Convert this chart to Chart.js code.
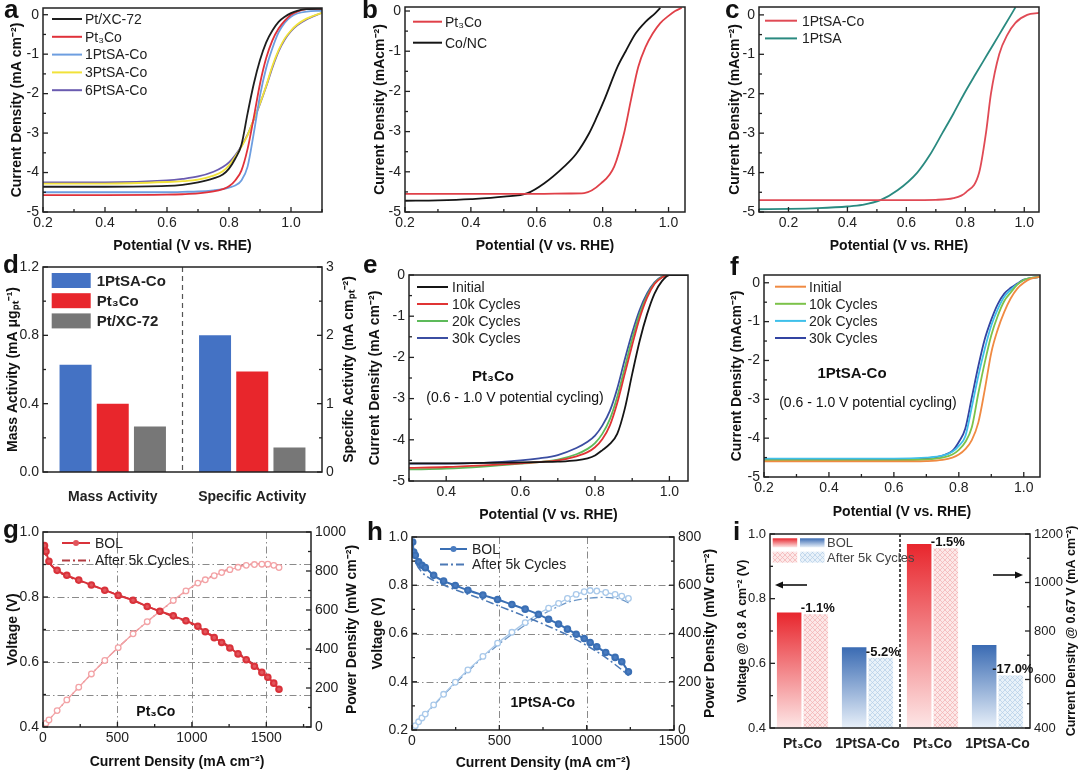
<!DOCTYPE html>
<html>
<head>
<meta charset="utf-8">
<title>ORR and fuel cell performance</title>
<script src="https://cdn.jsdelivr.net/npm/chart.js@4.4.1/dist/chart.umd.min.js"></script>
<style>
  html, body { margin: 0; padding: 0; background: #fff; }
  body { position: relative; width: 1080px; height: 774px; overflow: hidden; }
  canvas { position: absolute; }
  .tag { position: absolute; font: bold 26px "Liberation Sans", Arial, sans-serif; line-height: 26px; color: #111; }
</style>
</head>
<body>
<canvas id="ca"></canvas><canvas id="cb"></canvas><canvas id="cc"></canvas>
<canvas id="cd"></canvas><canvas id="ce"></canvas><canvas id="cf"></canvas>
<canvas id="cg"></canvas><canvas id="ch"></canvas><canvas id="ci"></canvas>
<div class="tag" style="left:4px;top:-4px">a</div>
<div class="tag" style="left:362px;top:-4px">b</div>
<div class="tag" style="left:725px;top:-4px">c</div>
<div class="tag" style="left:3px;top:251px">d</div>
<div class="tag" style="left:363px;top:251px">e</div>
<div class="tag" style="left:730px;top:253px">f</div>
<div class="tag" style="left:3px;top:516px">g</div>
<div class="tag" style="left:367px;top:518px">h</div>
<div class="tag" style="left:733px;top:518px">i</div>
<script>
// ---- a: LSV of the catalysts
const aPot = [0.2, 0.4, 0.6, 0.65, 0.7, 0.75, 0.78, 0.8, 0.82, 0.84, 0.86, 0.88, 0.9, 0.92, 0.94, 0.96, 0.98, 1.0, 1.02, 1.05, 1.1];
const aPtXC = [-4.36, -4.36, -4.34, -4.31, -4.25, -4.15, -4.05, -3.9, -3.65, -3.3, -2.5, -1.75, -1.15, -0.7, -0.4, -0.18, -0.05, 0.04, 0.1, 0.14, 0.15];
const aPt3Co = [-4.57, -4.57, -4.56, -4.55, -4.53, -4.48, -4.42, -4.35, -4.2, -3.95, -3.4, -2.6, -1.75, -1.1, -0.65, -0.35, -0.15, 0.0, 0.08, 0.14, 0.15];
const a1PtSA = [-4.5, -4.5, -4.5, -4.49, -4.48, -4.45, -4.42, -4.38, -4.33, -4.2, -3.85, -3.0, -2.05, -1.35, -0.85, -0.45, -0.2, -0.05, 0.03, 0.08, 0.1];
const a3PtSA = [-4.28, -4.28, -4.24, -4.22, -4.18, -4.08, -3.97, -3.82, -3.6, -3.35, -3.05, -2.65, -2.25, -1.8, -1.3, -0.9, -0.6, -0.4, -0.25, -0.1, 0.05];
const a6PtSA = [-4.25, -4.25, -4.2, -4.16, -4.1, -3.98, -3.86, -3.74, -3.56, -3.33, -3.04, -2.66, -2.26, -1.82, -1.34, -0.93, -0.63, -0.42, -0.27, -0.12, 0.05];

// ---- b: Pt3Co vs Co/NC
const bPotPt = [0.2, 0.4, 0.6, 0.7, 0.744, 0.795, 0.835, 0.865, 0.886, 0.908, 0.93, 0.952, 0.975, 1.0, 1.02, 1.04];
const bPt3Co = [-4.55, -4.55, -4.55, -4.54, -4.53, -4.29, -3.87, -3.04, -2.21, -1.39, -0.9, -0.56, -0.3, -0.12, 0.0, 0.08];
const bPotNC = [0.2, 0.3, 0.4, 0.5, 0.572, 0.622, 0.683, 0.72, 0.759, 0.78, 0.805, 0.845, 0.87, 0.9, 0.93, 0.96, 0.975];
const bCoNC = [-4.72, -4.71, -4.68, -4.62, -4.53, -4.29, -3.87, -3.55, -3.04, -2.68, -2.21, -1.39, -1.0, -0.56, -0.27, -0.05, 0.08];

// ---- c: 1PtSA-Co vs 1PtSA
const cPotCo = [0.1, 0.3, 0.5, 0.7, 0.76, 0.802, 0.847, 0.87, 0.887, 0.915, 0.943, 0.97, 1.01, 1.05];
const c1PtSACo = [-4.7, -4.7, -4.7, -4.69, -4.65, -4.5, -4.0, -3.0, -2.0, -1.0, -0.5, -0.2, 0.0, 0.05];
const cPotSA = [0.1, 0.2, 0.3, 0.4, 0.45, 0.512, 0.57, 0.637, 0.68, 0.722, 0.76, 0.796, 0.835, 0.875, 0.915, 0.955, 0.97];
const c1PtSA = [-4.93, -4.92, -4.9, -4.86, -4.82, -4.7, -4.45, -4.0, -3.55, -3.0, -2.5, -2.0, -1.5, -1.0, -0.5, 0.0, 0.19];

// ---- d: mass / specific activity
const dGroups = ['Mass Activity', 'Specific Activity'];
const dSeries = ['1PtSA-Co', 'Pt₃Co', 'Pt/XC-72'];
const dMass = [0.628, 0.40, 0.267];
const dSpecific = [2.0, 1.47, 0.36];

// ---- e: Pt3Co durability
const ePot = [0.3, 0.4, 0.5, 0.6, 0.65, 0.7, 0.75, 0.78, 0.8, 0.82, 0.84, 0.86, 0.88, 0.9, 0.92, 0.94, 0.96, 0.98, 1.0, 1.05];
const eInit = [-4.57, -4.57, -4.56, -4.55, -4.54, -4.53, -4.5, -4.45, -4.38, -4.25, -4.1, -3.85, -3.25, -2.4, -1.6, -0.95, -0.45, -0.15, 0, 0];
const e10k = [-4.68, -4.66, -4.62, -4.57, -4.54, -4.5, -4.4, -4.3, -4.18, -3.98, -3.65, -3.1, -2.4, -1.7, -1.05, -0.55, -0.22, -0.06, 0, 0];
const e20k = [-4.72, -4.7, -4.65, -4.58, -4.54, -4.48, -4.35, -4.22, -4.08, -3.85, -3.5, -2.95, -2.25, -1.55, -0.95, -0.5, -0.2, -0.05, 0, 0];
const e30k = [-4.58, -4.58, -4.56, -4.5, -4.45, -4.37, -4.2, -4.05, -3.9, -3.65, -3.3, -2.75, -2.05, -1.4, -0.85, -0.45, -0.18, -0.04, 0, 0];

// ---- f: 1PtSA-Co durability
const fPot = [0.2, 0.4, 0.6, 0.7, 0.75, 0.78, 0.8, 0.82, 0.84, 0.86, 0.88, 0.9, 0.92, 0.94, 0.96, 0.98, 1.0, 1.02, 1.05];
const fInit = [-4.6, -4.6, -4.6, -4.59, -4.56, -4.5, -4.42, -4.28, -4.05, -3.6, -2.75, -1.8, -1.2, -0.75, -0.4, -0.15, 0.0, 0.1, 0.15];
const f10k = [-4.57, -4.57, -4.57, -4.55, -4.5, -4.42, -4.3, -4.1, -3.72, -2.85, -2.05, -1.35, -0.85, -0.47, -0.25, -0.05, 0.07, 0.12, 0.15];
const f20k = [-4.53, -4.53, -4.53, -4.5, -4.45, -4.35, -4.2, -3.95, -3.2, -2.4, -1.7, -1.1, -0.68, -0.36, -0.18, -0.04, 0.07, 0.12, 0.15];
const f30k = [-4.55, -4.55, -4.55, -4.52, -4.45, -4.33, -4.1, -3.75, -2.95, -2.15, -1.45, -0.95, -0.55, -0.28, -0.13, -0.02, 0.08, 0.12, 0.15];

// ---- g: Pt3Co polarization
const gCur = [10, 20, 40, 95, 160, 240, 325, 415, 505, 605, 700, 785, 875, 960, 1040, 1090, 1150, 1200, 1255, 1310, 1365, 1420, 1470, 1510, 1550, 1585];
const gVolBol = [0.958, 0.94, 0.91, 0.882, 0.867, 0.852, 0.837, 0.821, 0.805, 0.79, 0.771, 0.756, 0.742, 0.727, 0.71, 0.693, 0.675, 0.66, 0.643, 0.625, 0.607, 0.587, 0.568, 0.553, 0.535, 0.516];
const gPowBol = [10, 19, 36, 84, 139, 204, 272, 341, 407, 478, 540, 593, 649, 698, 738, 755, 776, 792, 807, 819, 829, 833, 835, 835, 829, 818];
const gCur5k = [5, 30, 80, 150, 250, 400, 550, 700, 850, 1000, 1150, 1300, 1400, 1500, 1580];
const gVol5k = [0.95, 0.915, 0.885, 0.866, 0.849, 0.824, 0.799, 0.771, 0.744, 0.716, 0.678, 0.632, 0.598, 0.558, 0.52];
const gPow5k = [5, 27, 71, 130, 212, 330, 440, 540, 632, 716, 780, 822, 837, 837, 822];
const gCurTicks = [0, 500, 1000, 1500];

// ---- h: 1PtSA-Co polarization
const hCur = [4, 10, 19, 38, 57, 76, 124, 181, 248, 320, 406, 490, 572, 648, 724, 782, 839, 890, 940, 986, 1020, 1058, 1109, 1163, 1201, 1239];
const hVolBol = [0.979, 0.938, 0.924, 0.897, 0.883, 0.873, 0.841, 0.817, 0.799, 0.779, 0.759, 0.741, 0.72, 0.701, 0.679, 0.659, 0.639, 0.618, 0.597, 0.579, 0.563, 0.545, 0.521, 0.501, 0.483, 0.441];
const hPowBol = [4, 9, 18, 34, 50, 66, 104, 148, 198, 249, 305, 360, 405, 445, 482, 505, 525, 545, 562, 573, 578, 576, 570, 562, 555, 545];
const hCur5k = [5, 20, 50, 100, 200, 300, 400, 500, 600, 700, 800, 900, 1000, 1100, 1200, 1240];
const hVol5k = [0.95, 0.9, 0.86, 0.83, 0.795, 0.768, 0.742, 0.713, 0.685, 0.655, 0.624, 0.59, 0.55, 0.505, 0.45, 0.425];
const hPow5k = [5, 18, 43, 83, 159, 230, 297, 357, 411, 459, 499, 531, 545, 550, 540, 527];

// ---- i: retention after 5k cycles
const iCats = ['Pt₃Co', '1PtSA-Co', 'Pt₃Co', '1PtSA-Co'];
const iVoltBol = [0.757, 0.65];
const iVolt5k = [0.752, 0.617];
const iCurBol = [1159, 742];
const iCur5k = [1141, 617];
const iDrop = ['-1.1%', '-5.2%', '-1.5%', '-17.0%'];

const FONT = '"Liberation Sans", Arial, sans-serif';
const DASHDOT = [8, 3, 2, 3];
const extras = {};

Chart.defaults.font.family = FONT;
Chart.defaults.color = '#222';

const f0 = v => String(v);
const f1 = v => v.toFixed(1);

function axis(o) {
  const ticks = { autoSkip: false, maxRotation: 0, padding: o.pad ?? 4, color: '#222',
    font: { size: o.fsize || 14, weight: o.bold ? 'bold' : 'normal' } };
  if (o.step) { ticks.stepSize = o.step; ticks.includeBounds = false; }
  if (o.fmt) ticks.callback = o.fmt;
  const ax = {
    type: o.type || 'linear', position: o.pos, min: o.min, max: o.max,
    offset: o.type === 'category',
    grid: { display: false, drawTicks: false },
    border: { display: false },
    ticks,
    title: { display: !!o.title && o.pos !== 'right', text: o.title, color: '#111',
      font: { size: o.tsize || 14, weight: 'bold' }, padding: o.tpad }
  };
  if (o.at) ax.afterBuildTicks = s => { s.ticks = o.at.map(v => ({ value: v })); };
  return ax;
}

function fitTo(size) {
  return s => {
    if (s.isHorizontal()) s.height = size; else s.width = size;
    s.paddingTop = s.paddingBottom = s.paddingLeft = s.paddingRight = 0;
  };
}

function lineDs(label, xs, ys, color, extra = {}) {
  return Object.assign({
    label, data: xs.map((x, i) => ({ x, y: ys[i] })),
    borderColor: color, backgroundColor: color, borderWidth: 1.8,
    pointRadius: 0, cubicInterpolationMode: 'monotone', fill: false
  }, extra);
}

// frame, inward ticks, dash-dot grid, dividers
const framePlugin = {
  id: 'frame',
  beforeDatasetsDraw(chart) {
    const ex = extras[chart.canvas.id];
    const { ctx, chartArea: a } = chart;
    if (!ex.grid) return;
    ctx.save();
    ctx.strokeStyle = '#8a8a8a'; ctx.lineWidth = 1; ctx.setLineDash([7, 3, 1.5, 3]);
    Object.keys(ex.grid).forEach(id => {
      const s = chart.scales[id];
      ex.grid[id].forEach(v => {
        const p = Math.round(s.getPixelForValue(v)) + 0.5;
        ctx.beginPath();
        if (s.isHorizontal()) { ctx.moveTo(p, a.top); ctx.lineTo(p, a.bottom); }
        else { ctx.moveTo(a.left, p); ctx.lineTo(a.right, p); }
        ctx.stroke();
      });
    });
    ctx.restore();
  },
  afterDraw(chart) {
    const ex = extras[chart.canvas.id];
    const { ctx, chartArea: a } = chart;
    ctx.save();
    if (ex.divider) {
      const s = chart.scales.x;
      const x = (s.getPixelForValue(ex.divider.after) + s.getPixelForValue(ex.divider.after + 1)) / 2;
      ctx.strokeStyle = ex.divider.color; ctx.lineWidth = ex.divider.width; ctx.setLineDash(ex.divider.dash);
      ctx.beginPath(); ctx.moveTo(x, a.top); ctx.lineTo(x, a.bottom); ctx.stroke();
      ctx.setLineDash([]);
    }
    ctx.strokeStyle = '#222'; ctx.lineWidth = 1.3;
    Object.values(chart.scales).forEach(s => {
      if (s.type !== 'linear') return;
      const vals = s.ticks.map(t => t.value);
      const step = vals[1] - vals[0];
      const minor = vals.map(v => v - step / 2).concat([vals[vals.length - 1] + step / 2])
        .filter(v => v >= s.min - 1e-9 && v <= s.max + 1e-9);
      const mark = (v, len) => {
        const p = s.getPixelForValue(v);
        ctx.beginPath();
        if (s.position === 'bottom') { ctx.moveTo(p, a.bottom); ctx.lineTo(p, a.bottom - len); }
        else if (s.position === 'left') { ctx.moveTo(a.left, p); ctx.lineTo(a.left + len, p); }
        else { ctx.moveTo(a.right, p); ctx.lineTo(a.right - len, p); }
        ctx.stroke();
      };
      vals.forEach(v => mark(v, 5));
      minor.forEach(v => mark(v, 3));
    });
    ctx.lineWidth = 1.5;
    ctx.strokeRect(a.left, a.top, a.right - a.left, a.bottom - a.top);
    ctx.restore();
  }
};

// legend drawn inside the plot area
const legendPlugin = {
  id: 'inlineLegend',
  afterDraw(chart) {
    const o = extras[chart.canvas.id].legend;
    if (!o) return;
    const { ctx, chartArea: a } = chart;
    const items = chart.data.datasets.filter(d => !d.noLegend);
    ctx.save();
    ctx.font = (o.bold ? 'bold ' : '') + (o.size || 14) + 'px ' + FONT;
    ctx.textBaseline = 'middle'; ctx.textAlign = 'left';
    items.forEach((d, i) => {
      const x = a.left + o.dx, y = a.top + o.dy + i * o.rowH;
      if (o.box) {
        ctx.fillStyle = d.backgroundColor;
        ctx.fillRect(x, y - o.boxH / 2, o.sampleW, o.boxH);
      } else {
        ctx.strokeStyle = d.borderColor; ctx.lineWidth = 2;
        ctx.setLineDash(d.borderDash || []);
        ctx.beginPath(); ctx.moveTo(x, y); ctx.lineTo(x + o.sampleW, y); ctx.stroke();
        ctx.setLineDash([]);
        if (d.legendMarker) {
          ctx.fillStyle = d.pointBackgroundColor;
          ctx.beginPath(); ctx.arc(x + o.sampleW / 2, y, 3, 0, Math.PI * 2); ctx.fill();
        }
      }
      ctx.fillStyle = '#222';
      ctx.fillText(d.label, x + o.sampleW + o.gap, y + 1);
    });
    ctx.restore();
  }
};

// free text in data coordinates, right-hand axis titles, per-chart extras
const notesPlugin = {
  id: 'notes',
  afterDraw(chart) {
    const ex = extras[chart.canvas.id];
    const { ctx, chartArea: a } = chart;
    (ex.notes || []).forEach(n => {
      ctx.save();
      ctx.font = (n.bold ? 'bold ' : '') + n.size + 'px ' + FONT;
      ctx.fillStyle = '#111'; ctx.textAlign = 'center'; ctx.textBaseline = 'middle';
      ctx.fillText(n.text, chart.scales.x.getPixelForValue(n.x), chart.scales[n.axis || 'y'].getPixelForValue(n.y));
      ctx.restore();
    });
    if (ex.rtitle) {
      ctx.save();
      ctx.font = 'bold ' + (ex.rtitle.size || 14) + 'px ' + FONT;
      ctx.fillStyle = '#111'; ctx.textAlign = 'center'; ctx.textBaseline = 'middle';
      ctx.translate(chart.width - ex.rtitle.off, (a.top + a.bottom) / 2);
      ctx.rotate(-Math.PI / 2);
      ctx.fillText(ex.rtitle.text, 0, 0);
      ctx.restore();
    }
    if (ex.draw) ex.draw(chart);
  }
};

function makeChart(id, box, ax, spec) {
  const cv = document.getElementById(id);
  const w = box.r - box.l + ax.l + ax.r, h = box.b - box.t + ax.t + ax.b;
  cv.width = w; cv.height = h;
  Object.assign(cv.style, { left: (box.l - ax.l) + 'px', top: (box.t - ax.t) + 'px', width: w + 'px', height: h + 'px' });
  extras[id] = spec;
  spec.x.afterFit = fitTo(ax.b);
  spec.y.afterFit = fitTo(ax.l);
  const scales = { x: spec.x, y: spec.y };
  if (spec.y1) { spec.y1.afterFit = fitTo(ax.r); scales.y1 = spec.y1; }
  return new Chart(cv, {
    type: spec.type,
    data: { labels: spec.labels, datasets: spec.datasets },
    options: {
      responsive: false, devicePixelRatio: 1, animation: false, events: [],
      layout: { autoPadding: false, padding: { left: 0, top: ax.t, right: spec.y1 ? 0 : ax.r, bottom: 0 } },
      scales,
      plugins: { legend: { display: false }, tooltip: { enabled: false } }
    },
    plugins: [framePlugin, legendPlugin, notesPlugin]
  });
}

const potTitle = 'Potential (V vs. RHE)';

// a
makeChart('ca', { l: 43, t: 8, r: 322, b: 212 }, { l: 43, t: 8, r: 10, b: 48 }, {
  type: 'line',
  datasets: [
    lineDs('Pt/XC-72', aPot, aPtXC, '#1e1e1e'),
    lineDs('Pt₃Co', aPot, aPt3Co, '#e0313a'),
    lineDs('1PtSA-Co', aPot, a1PtSA, '#6d9ee0'),
    lineDs('3PtSA-Co', aPot, a3PtSA, '#f1e23a'),
    lineDs('6PtSA-Co', aPot, a6PtSA, '#6a5bb0')
  ],
  x: axis({ pos: 'bottom', min: 0.2, max: 1.1, step: 0.2, fmt: f1, pad: 3, title: potTitle, tpad: { bottom: 5.6 } }),
  y: axis({ pos: 'left', min: -5, max: 0.17, step: 1, fmt: f0, title: 'Current Density (mA cm⁻²)', tpad: { top: 8.6 } }),
  legend: { dx: 9, dy: 11, rowH: 17.8, sampleW: 30, gap: 3 }
});

// b
makeChart('cb', { l: 405, t: 7, r: 685, b: 212 }, { l: 45, t: 7, r: 10, b: 48 }, {
  type: 'line',
  datasets: [
    lineDs('Pt₃Co', bPotPt, bPt3Co, '#e04048'),
    lineDs('Co/NC', bPotNC, bCoNC, '#151515')
  ],
  x: axis({ pos: 'bottom', min: 0.2, max: 1.05, step: 0.2, fmt: f1, pad: 3, title: potTitle, tpad: { bottom: 5.6 } }),
  y: axis({ pos: 'left', min: -5, max: 0.1, step: 1, fmt: f0, title: 'Current Density (mAcm⁻²)', tpad: { top: 11.6 } }),
  legend: { dx: 8, dy: 14.7, rowH: 21, sampleW: 29, gap: 3 }
});

// c
makeChart('cc', { l: 759, t: 7, r: 1039, b: 212 }, { l: 39, t: 7, r: 10, b: 48 }, {
  type: 'line',
  datasets: [
    lineDs('1PtSA-Co', cPotCo, c1PtSACo, '#e04a55'),
    lineDs('1PtSA', cPotSA, c1PtSA, '#2a8a80')
  ],
  x: axis({ pos: 'bottom', min: 0.1, max: 1.05, step: 0.2, fmt: f1, pad: 3, title: potTitle, tpad: { bottom: 5.6 } }),
  y: axis({ pos: 'left', min: -5, max: 0.2, step: 1, fmt: f0, title: 'Current Density (mAcm⁻²)', tpad: { top: 6.6 } }),
  legend: { dx: 6, dy: 13.7, rowH: 17.7, sampleW: 32, gap: 5 }
});

// d
const dColors = ['#4472c4', '#e8262c', '#777777'];
const dDatasets = [];
dSeries.forEach((name, k) => dDatasets.push({ label: name, data: [dMass[k], null], yAxisID: 'y',
  backgroundColor: dColors[k], skipNull: true, categoryPercentage: 0.8, barPercentage: 0.86 }));
dSeries.forEach((name, k) => dDatasets.push({ label: name, data: [null, dSpecific[k]], yAxisID: 'y1',
  backgroundColor: dColors[k], skipNull: true, categoryPercentage: 0.8, barPercentage: 0.86, noLegend: true }));
makeChart('cd', { l: 43, t: 267, r: 322, b: 472 }, { l: 43, t: 7, r: 38, b: 38 }, {
  type: 'bar',
  labels: dGroups,
  datasets: dDatasets,
  x: axis({ type: 'category', pos: 'bottom', pad: 17, bold: true }),
  y: axis({ pos: 'left', min: 0, max: 1.2, step: 0.4, fmt: f1, title: 'Mass Activity (mA μgₚₜ⁻¹)', tpad: { top: 4.6 } }),
  y1: axis({ pos: 'right', min: 0, max: 3, step: 1, fmt: f0 }),
  rtitle: { text: 'Specific Activity (mA cmₚₜ⁻²)', off: 11 },
  legend: { box: true, bold: true, size: 15, dx: 8.7, dy: 13.5, rowH: 20.2, sampleW: 39, boxH: 15, gap: 6 },
  divider: { after: 0, dash: [5, 4], color: '#555', width: 1.2 }
});

// e
makeChart('ce', { l: 409, t: 275, r: 688, b: 481 }, { l: 49, t: 15, r: 12, b: 45 }, {
  type: 'line',
  datasets: [
    lineDs('Initial', ePot, eInit, '#151515'),
    lineDs('10k Cycles', ePot, e10k, '#e03434'),
    lineDs('20k Cycles', ePot, e20k, '#5dba5a'),
    lineDs('30k Cycles', ePot, e30k, '#3b4ea2')
  ],
  x: axis({ pos: 'bottom', min: 0.3, max: 1.05, step: 0.2, fmt: f1, pad: 3, title: potTitle, tpad: { bottom: 2.6 } }),
  y: axis({ pos: 'left', min: -5, max: 0, step: 1, fmt: f0, title: 'Current Density (mA cm⁻²)', tpad: { top: 6.6 } }),
  legend: { dx: 8, dy: 12, rowH: 17, sampleW: 31, gap: 4 },
  notes: [
    { text: 'Pt₃Co', x: 0.526, y: -2.48, bold: true, size: 15 },
    { text: '(0.6 - 1.0 V potential cycling)', x: 0.585, y: -2.99, size: 14 }
  ]
});

// f
makeChart('cf', { l: 764, t: 275, r: 1040, b: 477 }, { l: 44, t: 15, r: 10, b: 44 }, {
  type: 'line',
  datasets: [
    lineDs('Initial', fPot, fInit, '#f08a42'),
    lineDs('10k Cycles', fPot, f10k, '#7cc24a'),
    lineDs('20k Cycles', fPot, f20k, '#3fc0ea'),
    lineDs('30k Cycles', fPot, f30k, '#3344a2')
  ],
  x: axis({ pos: 'bottom', min: 0.2, max: 1.05, step: 0.2, fmt: f1, pad: 3, title: potTitle, tpad: { bottom: 0.6 } }),
  y: axis({ pos: 'left', min: -5, max: 0.2, step: 1, fmt: f0, title: 'Current Density (mAcm⁻²)', tpad: { top: 8.6 } }),
  legend: { dx: 11, dy: 11.7, rowH: 17.1, sampleW: 31, gap: 3 },
  notes: [
    { text: '1PtSA-Co', x: 0.471, y: -2.35, bold: true, size: 15 },
    { text: '(0.6 - 1.0 V potential cycling)', x: 0.52, y: -3.09, size: 14 }
  ]
});

// g
makeChart('cg', { l: 43, t: 532, r: 311, b: 727 }, { l: 43, t: 12, r: 50, b: 45 }, {
  type: 'line',
  datasets: [
    lineDs('BOL', gCur, gVolBol, '#d9323a', { borderWidth: 2, pointRadius: 2.8, pointBackgroundColor: '#e2555c', pointBorderColor: '#d9323a', legendMarker: true, yAxisID: 'y' }),
    lineDs('After 5k Cycles', gCur5k, gVol5k, '#b23b40', { borderDash: DASHDOT, borderWidth: 1.5, yAxisID: 'y' }),
    lineDs('BOL power', gCur, gPowBol, '#f3a3a6', { pointRadius: 2.8, pointBackgroundColor: '#fff', pointBorderColor: '#f3a3a6', borderWidth: 1.3, yAxisID: 'y1', noLegend: true }),
    lineDs('After 5k power', gCur5k, gPow5k, '#d8737a', { borderDash: DASHDOT, borderWidth: 1.3, yAxisID: 'y1', noLegend: true })
  ],
  x: axis({ pos: 'bottom', min: 0, max: 1800, at: gCurTicks, fmt: f0, pad: 3, title: 'Current Density (mA cm⁻²)', tpad: { bottom: 1.9 } }),
  y: axis({ pos: 'left', min: 0.4, max: 1.0, step: 0.2, fmt: f1, title: 'Voltage (V)', tpad: { top: 4.9 } }),
  y1: axis({ pos: 'right', min: 0, max: 1000, step: 200, fmt: f0 }),
  rtitle: { text: 'Power Density (mW cm⁻²)', off: 8.5 },
  grid: { x: [500, 1000, 1500], y: [0.5, 0.6, 0.7, 0.8, 0.9] },
  legend: { dx: 19, dy: 11, rowH: 17.5, sampleW: 28, gap: 5 },
  notes: [{ text: 'Pt₃Co', x: 758, y: 0.447, bold: true, size: 14 }]
});

// h
makeChart('ch', { l: 412, t: 537, r: 674, b: 730 }, { l: 52, t: 17, r: 46, b: 42 }, {
  type: 'line',
  datasets: [
    lineDs('BOL', hCur, hVolBol, '#3a6fb4', { borderWidth: 2, pointRadius: 2.8, pointBackgroundColor: '#4a7cc0', pointBorderColor: '#3a6fb4', legendMarker: true, yAxisID: 'y' }),
    lineDs('After 5k Cycles', hCur5k, hVol5k, '#4c79b5', { borderDash: DASHDOT, borderWidth: 1.5, yAxisID: 'y' }),
    lineDs('BOL power', hCur, hPowBol, '#a9c9ea', { pointRadius: 2.8, pointBackgroundColor: '#fff', pointBorderColor: '#a9c9ea', borderWidth: 1.3, yAxisID: 'y1', noLegend: true }),
    lineDs('After 5k power', hCur5k, hPow5k, '#6e98c8', { borderDash: DASHDOT, borderWidth: 1.3, yAxisID: 'y1', noLegend: true })
  ],
  x: axis({ pos: 'bottom', min: 0, max: 1500, step: 500, fmt: f0, pad: 3, title: 'Current Density (mA cm⁻²)', tpad: { bottom: 0 } }),
  y: axis({ pos: 'left', min: 0.2, max: 1.0, step: 0.2, fmt: f1, title: 'Voltage (V)', tpad: { top: 9.6 } }),
  y1: axis({ pos: 'right', min: 0, max: 800, step: 200, fmt: f0 }),
  rtitle: { text: 'Power Density (mW cm⁻²)', off: 10 },
  grid: { x: [500, 1000], y: [0.4, 0.6, 0.8] },
  legend: { dx: 28, dy: 12, rowH: 15.5, sampleW: 27, gap: 5 },
  notes: [{ text: '1PtSA-Co', x: 749, y: 0.312, bold: true, size: 14 }]
});

// i
function hatch(bg, line) {
  const p = document.createElement('canvas');
  p.width = p.height = 5;
  const x = p.getContext('2d');
  x.fillStyle = bg; x.fillRect(0, 0, 5, 5);
  x.strokeStyle = line; x.lineWidth = 0.7;
  x.beginPath(); x.moveTo(0, 0); x.lineTo(5, 5); x.moveTo(5, 0); x.lineTo(0, 5); x.stroke();
  return x.createPattern(p, 'repeat');
}
const iTones = {
  red: { dark: '#e8262d', pale: '#fde6e6', hatch: hatch('#fce8e8', '#f2b0b2') },
  blue: { dark: '#3a6bb3', pale: '#e8f0f9', hatch: hatch('#e8f1f9', '#b3cde6') }
};
const toneOf = k => iCats[k].startsWith('Pt') ? iTones.red : iTones.blue;
function iFill(c) {
  const tone = toneOf(c.dataIndex);
  if (c.dataset.aged) return tone.hatch;
  const area = c.chart.chartArea;
  if (!area || c.raw == null) return tone.dark;
  const top = c.chart.scales[c.dataset.yAxisID].getPixelForValue(c.raw);
  const g = c.chart.ctx.createLinearGradient(0, top, 0, area.bottom);
  g.addColorStop(0, tone.dark); g.addColorStop(1, tone.pale);
  return g;
}
const iBar = { skipNull: true, categoryPercentage: 0.82, barPercentage: 0.92, backgroundColor: iFill };
function arrow(ctx, x1, y, x2) {
  const dir = Math.sign(x2 - x1);
  ctx.beginPath(); ctx.moveTo(x1, y); ctx.lineTo(x2 - dir * 6, y); ctx.stroke();
  ctx.beginPath(); ctx.moveTo(x2, y); ctx.lineTo(x2 - dir * 8, y - 3.5); ctx.lineTo(x2 - dir * 8, y + 3.5); ctx.closePath(); ctx.fill();
}
makeChart('ci', { l: 770, t: 534, r: 1030, b: 728 }, { l: 50, t: 14, r: 50, b: 40 }, {
  type: 'bar',
  labels: iCats,
  datasets: [
    Object.assign({ label: 'BOL', data: iVoltBol.concat([null, null]), yAxisID: 'y' }, iBar),
    Object.assign({ label: 'After 5k Cycles', data: iVolt5k.concat([null, null]), yAxisID: 'y', aged: true,
      dropLabels: iDrop.slice(0, 2) }, iBar),
    Object.assign({ label: 'BOL', data: [null, null].concat(iCurBol), yAxisID: 'y1' }, iBar),
    Object.assign({ label: 'After 5k Cycles', data: [null, null].concat(iCur5k), yAxisID: 'y1', aged: true,
      dropLabels: [null, null].concat(iDrop.slice(2)) }, iBar)
  ],
  x: axis({ type: 'category', pos: 'bottom', pad: 8, bold: true }),
  y: axis({ pos: 'left', min: 0.4, max: 1.0, step: 0.2, fmt: f1, fsize: 13, title: 'Voltage @ 0.8 A cm⁻² (V)', tsize: 12.5, tpad: { top: 15 } }),
  y1: axis({ pos: 'right', min: 400, max: 1200, step: 200, fmt: f0, fsize: 13 }),
  rtitle: { text: 'Current Density @ 0.67 V (mA cm⁻²)', size: 12.5, off: 8.3 },
  divider: { after: 1, dash: [3, 2], color: '#111', width: 1.5 },
  draw(chart) {
    const { ctx, chartArea: a } = chart;
    ctx.save();
    // legend swatches
    const rows = [{ y: a.top + 4.3, h: 9, aged: false, text: 'BOL' }, { y: a.top + 17.7, h: 11, aged: true, text: 'After 5k Cycles' }];
    rows.forEach(r => {
      [iTones.red, iTones.blue].forEach((t, k) => {
        const x = a.left + 2.7 + k * 27.3;
        if (r.aged) ctx.fillStyle = t.hatch;
        else {
          const g = ctx.createLinearGradient(0, r.y, 0, r.y + r.h);
          g.addColorStop(0, t.dark); g.addColorStop(1, t.pale);
          ctx.fillStyle = g;
        }
        ctx.fillRect(x, r.y, 24.5, r.h);
      });
      ctx.fillStyle = '#444'; ctx.font = '13px ' + FONT;
      ctx.textBaseline = 'middle'; ctx.textAlign = 'left';
      ctx.fillText(r.text, a.left + 57, r.y + r.h / 2 + 1);
    });
    // axis pointers
    ctx.strokeStyle = '#111'; ctx.fillStyle = '#111'; ctx.lineWidth = 1.6;
    arrow(ctx, a.left + 37, a.top + 51, a.left + 5);
    arrow(ctx, a.left + 223, a.top + 41, a.left + 253);
    // retention labels above the aged bars
    ctx.font = 'bold 13px ' + FONT; ctx.textAlign = 'center'; ctx.textBaseline = 'bottom';
    chart.data.datasets.forEach((d, di) => {
      if (!d.dropLabels) return;
      chart.getDatasetMeta(di).data.forEach((el, k) => {
        if (d.dropLabels[k]) ctx.fillText(d.dropLabels[k], el.x + 2, el.y + 1);
      });
    });
    ctx.restore();
  }
});
</script>
</body>
</html>
